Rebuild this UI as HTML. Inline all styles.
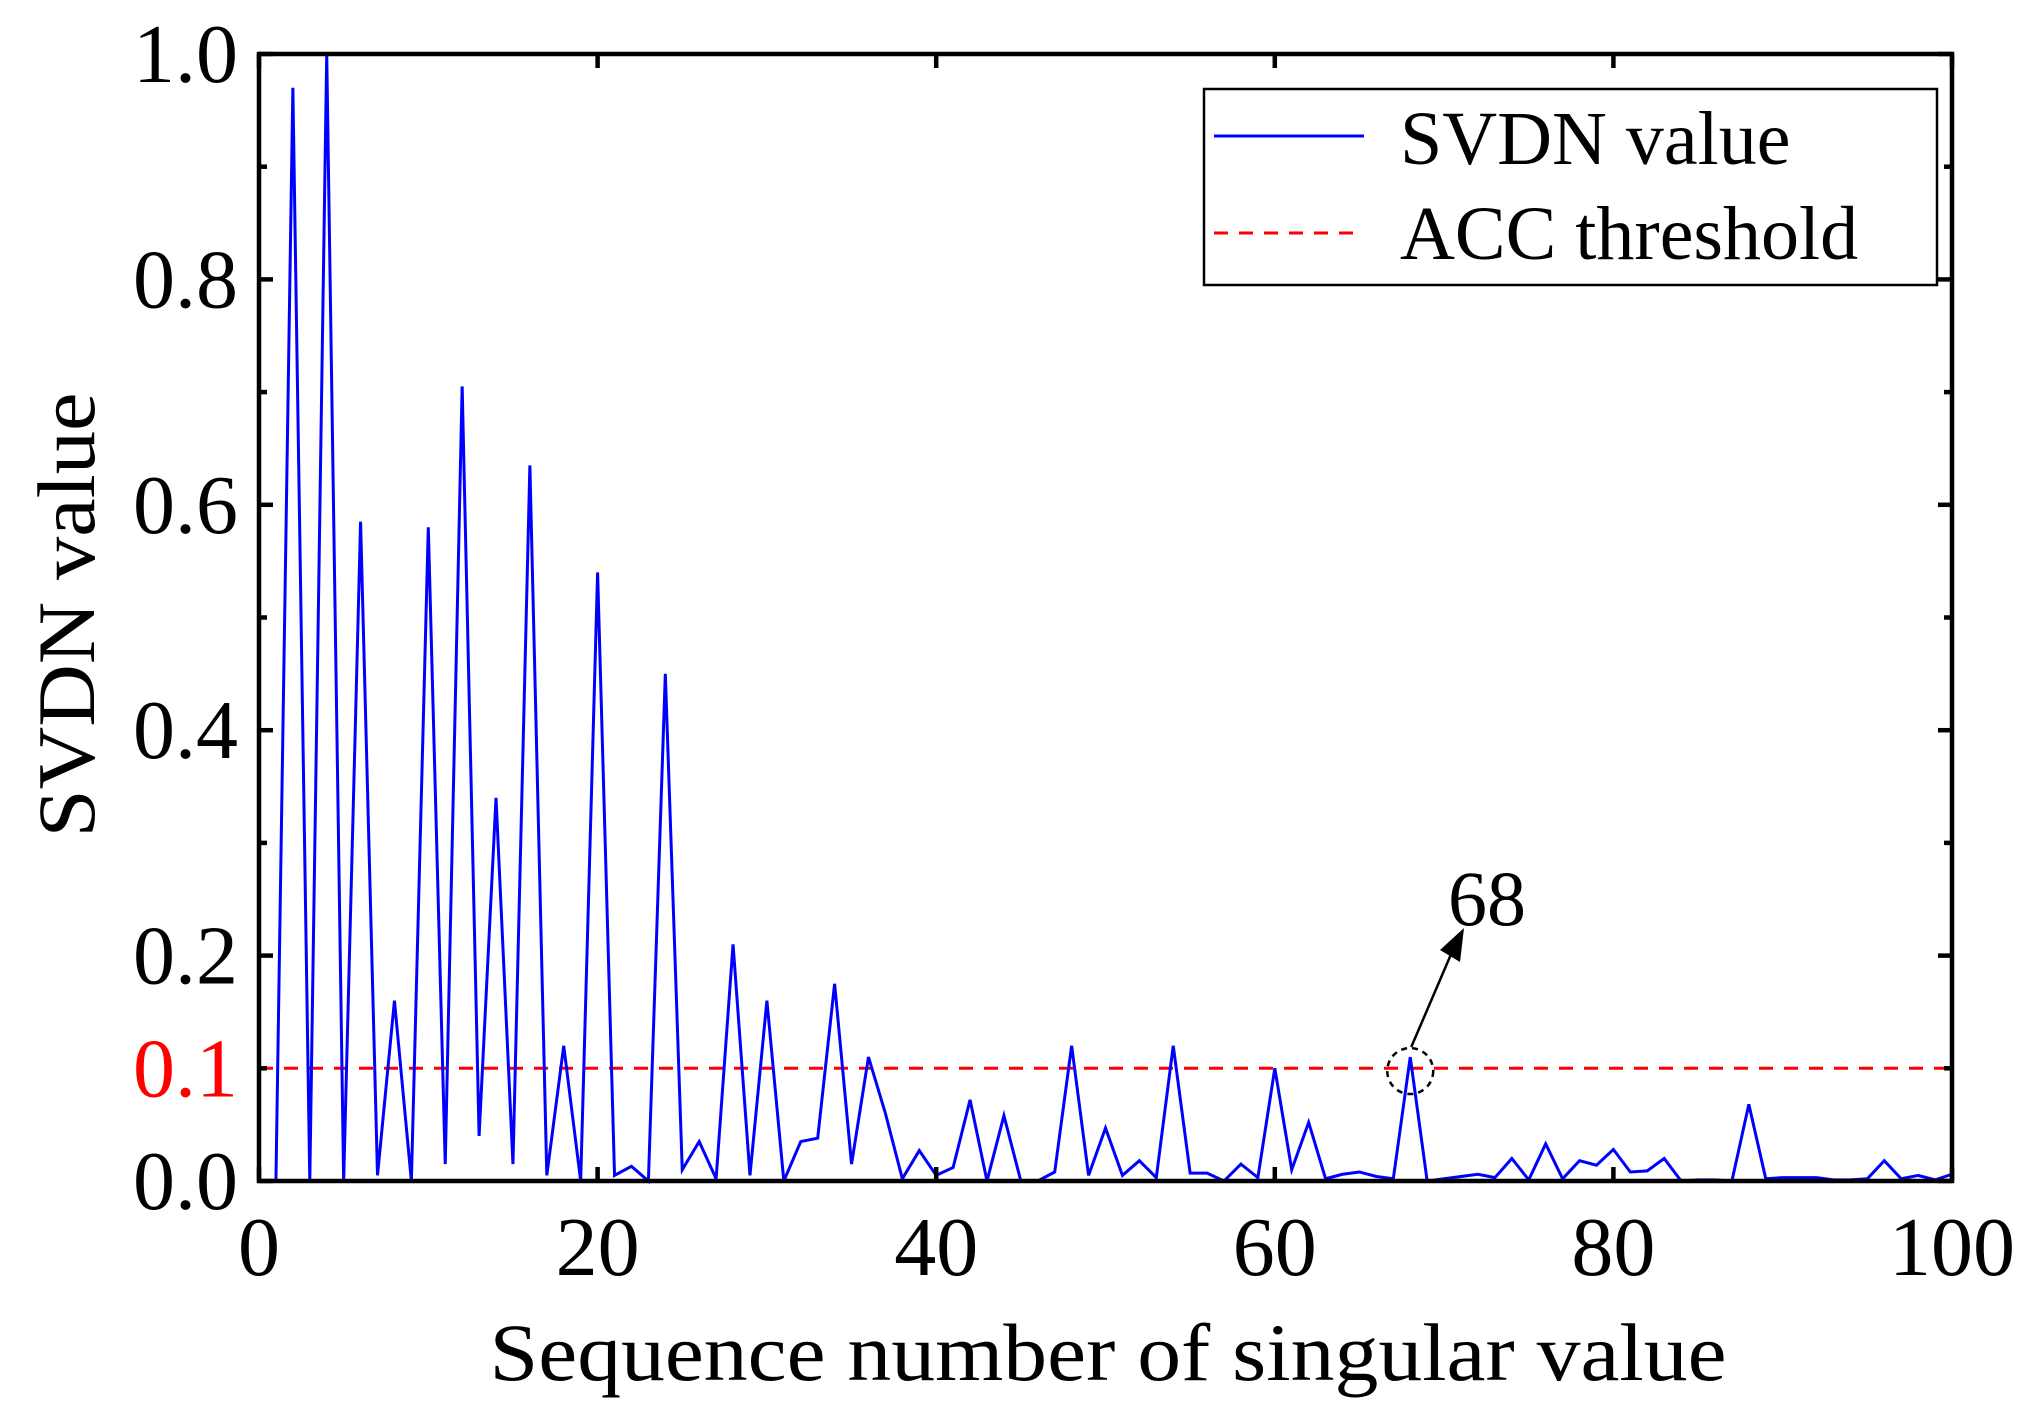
<!DOCTYPE html>
<html><head><meta charset="utf-8"><style>
html,body{margin:0;padding:0;background:#fff;}
svg{display:block;font-family:"Liberation Serif",serif;}
</style></head><body>
<svg id="chart" width="2044" height="1415" viewBox="0 0 2044 1415" xmlns="http://www.w3.org/2000/svg">
<g id="plot"></g>
</svg>
<script>
const xTicks = [0, 20, 40, 60, 80, 100];
const yTicks = [0.0, 0.2, 0.4, 0.6, 0.8, 1.0];
const yTickLabels = ["0.0", "0.2", "0.4", "0.6", "0.8", "1.0"];
const threshold = 0.1;
const annotatedIndex = 68;
const svdnValues = [0,0.97,0,1.0,0,0.585,0.005,0.16,0,0.58,
0.015,0.705,0.04,0.34,0.015,0.635,0.005,0.12,0,0.54,
0.005,0.013,0,0.45,0.01,0.035,0.002,0.21,0.005,0.16,
0,0.035,0.038,0.175,0.015,0.11,0.06,0.002,0.027,0.005,
0.012,0.072,0,0.058,0,0,0.008,0.12,0.005,0.047,
0.005,0.018,0.003,0.12,0.007,0.007,0,0.015,0.003,0.1,
0.01,0.052,0.002,0.006,0.008,0.004,0.002,0.11,0,0.002,
0.004,0.006,0.003,0.02,0.001,0.033,0.002,0.018,0.014,0.028,
0.008,0.009,0.02,0,0.001,0.001,0,0.068,0.002,0.003,
0.003,0.003,0.001,0.001,0.002,0.018,0.002,0.005,0.001,0.006];

const L=259,R=1952,T=54,B=1181;
const sx=v=>L+(v-0)/(100-0)*(R-L);
const sy=v=>B-(v-0)/(1-0)*(B-T);
const NS="http://www.w3.org/2000/svg";
const g=document.getElementById('plot');
function mk(tag,attrs,parent){const e=document.createElementNS(NS,tag);for(const k in attrs)e.setAttribute(k,attrs[k]);(parent||g).appendChild(e);return e;}

let th=mk('line',{x1:L,x2:R,y1:sy(threshold),y2:sy(threshold),stroke:'#ff0000','stroke-width':3,'stroke-dasharray':'14,11'});



let pts=svdnValues.map((v,i)=>sx(i+1).toFixed(2)+','+sy(v).toFixed(2)).join(' ');
let pl=mk('polyline',{points:pts,fill:'none',stroke:'#0000ff','stroke-width':3,'stroke-linejoin':'miter'});



let fr=mk('rect',{x:L,y:T,width:R-L,height:B-T,fill:'none',stroke:'#000','stroke-width':4.5});



xTicks.forEach(v=>{
  const x=sx(v);
  mk('line',{x1:x,x2:x,y1:B,y2:B-14,stroke:'#000','stroke-width':4.5});
  mk('line',{x1:x,x2:x,y1:T,y2:T+14,stroke:'#000','stroke-width':4.5});
  let t=mk('text',{x:x,y:1275,'text-anchor':'middle','font-size':84,fill:'#000'});
  t.textContent=String(v);
  
  
});
for(let k=0;k<=10;k++){
  const v=k/10, y=sy(v), len=(k%2===0)?14:8;
  mk('line',{x1:L,x2:L+len,y1:y,y2:y,stroke:'#000','stroke-width':4.5});
  mk('line',{x1:R,x2:R-len,y1:y,y2:y,stroke:'#000','stroke-width':4.5});
}
yTicks.forEach((v,i)=>{
  let t=mk('text',{x:238,y:sy(v)+28,'text-anchor':'end','font-size':84,fill:'#000'});
  t.textContent=yTickLabels[i];
  
  
});
let tl=mk('text',{x:238,y:sy(threshold)+28,'text-anchor':'end','font-size':84,fill:'#ff0000'});
tl.textContent='0.1';



let xt=mk('text',{x:1108,y:1380,'text-anchor':'middle','font-size':82,fill:'#000',textLength:1237,lengthAdjust:'spacingAndGlyphs'});
xt.textContent='Sequence number of singular value';


let yt=mk('text',{x:0,y:0,'text-anchor':'middle','font-size':82,fill:'#000',transform:'translate(94,615) rotate(-90)',textLength:445,lengthAdjust:'spacingAndGlyphs'});
yt.textContent='SVDN value';



const ax=sx(annotatedIndex), ay=sy(svdnValues[annotatedIndex-1])+20;
let c=mk('circle',{cx:ax,cy:ay-6,r:23,fill:'none',stroke:'#000','stroke-width':2.5,'stroke-dasharray':'6,5'});


let ar=mk('line',{x1:ax+1,y1:ay-30,x2:1452,y2:952,stroke:'#000','stroke-width':2.5});


let ah=mk('polygon',{points:'1464,928 1440,950 1460,962',fill:'#000'});


let at=mk('text',{x:1448,y:925,'font-size':78,fill:'#000'});
at.textContent=String(annotatedIndex);



let lg=mk('g',{});


mk('rect',{x:1204,y:89,width:733,height:196,fill:'#fff',stroke:'#000','stroke-width':2.5},lg);
mk('line',{x1:1214,x2:1364,y1:136,y2:136,stroke:'#0000ff','stroke-width':3},lg);
mk('line',{x1:1214,x2:1364,y1:233,y2:233,stroke:'#ff0000','stroke-width':3,'stroke-dasharray':'14,11'},lg);
let l1=mk('text',{x:1400,y:164,'font-size':76,fill:'#000'},lg);
l1.textContent='SVDN value';


let l2=mk('text',{x:1400,y:259,'font-size':76,fill:'#000'},lg);
l2.textContent='ACC threshold';


</script>
</body></html>
